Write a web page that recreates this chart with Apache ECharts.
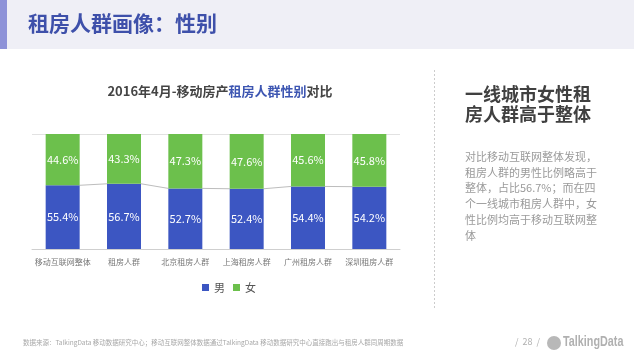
<!DOCTYPE html>
<html><head><meta charset="utf-8">
<script src="https://cdn.jsdelivr.net/npm/echarts@6/dist/echarts.min.js"></script>
<style>html,body{margin:0;padding:0;background:#fff}#c{width:634px;height:364px}</style>
</head><body><div id="c"></div>
<script>
const categories = ['移动互联网整体','租房人群','北京租房人群','上海租房人群','广州租房人群','深圳租房人群'];
const male = [55.4, 56.7, 52.7, 52.4, 54.4, 54.2];
const female = [44.6, 43.3, 47.3, 47.6, 45.6, 45.8];
const seriesNames = ['男','女'];
const FONT = '"Noto Sans CJK SC","Noto Sans",sans-serif';
const BAR_W = 34;

const connectors = [];
for (let i = 0; i < male.length - 1; i++) connectors.push([i, male[i], male[i + 1]]);

const chart = echarts.init(document.getElementById('c'));
chart.setOption({
  backgroundColor: '#fff',
  animation: false,
  textStyle: { fontFamily: FONT },
  title: {
    text: '{a|2016年4月-移动房产}{b|租房人群性别}{a|对比}',
    left: 215, top: 80, textAlign: 'center',
    textStyle: { rich: {
      a: { fontSize: 13, fontWeight: 'bold', color: '#444', fontFamily: FONT },
      b: { fontSize: 13, fontWeight: 'bold', color: '#3d56b2', fontFamily: FONT }
    } }
  },
  legend: {
    left: 197, top: 277, itemWidth: 7, itemHeight: 7, itemGap: 8,
    icon: 'rect',
    textStyle: { fontSize: 11, color: '#555', fontFamily: FONT },
    data: seriesNames
  },
  grid: { left: 32, right: 234, top: 134, bottom: 115 },
  xAxis: {
    type: 'category', data: categories,
    axisLine: { lineStyle: { color: '#cfcfcf' } },
    axisTick: { show: false },
    axisLabel: { fontSize: 8, color: '#777', margin: 9, fontFamily: FONT, interval: 0 }
  },
  yAxis: {
    type: 'value', min: 0, max: 100, interval: 100, show: true,
    axisLine: { show: false }, axisTick: { show: false }, axisLabel: { show: false },
    splitLine: { lineStyle: { color: '#e2e2e2' } }
  },
  series: [
    { name: seriesNames[0], type: 'bar', stack: 's', data: male, barWidth: BAR_W,
      itemStyle: { color: '#3c56c2' },
      label: { show: true, position: 'inside', color: '#fff', fontSize: 11, formatter: p => p.value.toFixed(1) + '%' } },
    { name: seriesNames[1], type: 'bar', stack: 's', data: female, barWidth: BAR_W,
      itemStyle: { color: '#6cc04c' },
      label: { show: true, position: 'inside', color: '#fff', fontSize: 11, formatter: p => p.value.toFixed(1) + '%' } },
    { type: 'custom', data: connectors, silent: true, z: 1,
      renderItem: (params, api) => {
        const i = api.value(0);
        const p1 = api.coord([i, api.value(1)]);
        const p2 = api.coord([i + 1, api.value(2)]);
        return { type: 'line', shape: { x1: p1[0] + BAR_W / 2, y1: p1[1], x2: p2[0] - BAR_W / 2, y2: p2[1] },
          style: { stroke: '#bdbdbd', lineWidth: 1 } };
      } }
  ],
  graphic: [
    { type: 'rect', left: 0, top: 0, shape: { width: 634, height: 49 }, style: { fill: '#efeff6' }, silent: true },
    { type: 'rect', left: 0, top: 0, shape: { width: 7, height: 49 }, style: { fill: '#8e92d8' }, silent: true },
    { type: 'text', left: 28, top: 13, style: { text: '租房人群画像：性别', fill: '#3e50aa', font: 'bold 21px ' + FONT } },
    { type: 'line', shape: { x1: 434.5, y1: 70, x2: 434.5, y2: 310 }, style: { stroke: '#cccccc', lineDash: [2, 2], lineWidth: 1 } },
    { type: 'text', left: 465, top: 84, style: { text: '一线城市女性租\n房人群高于整体', fill: '#404040', font: 'bold 18px ' + FONT, lineHeight: 20 } },
    { type: 'text', left: 465, top: 149, style: { text: '对比移动互联网整体发现，\n租房人群的男性比例略高于\n整体，占比56.7%；而在四\n个一线城市租房人群中，女\n性比例均高于移动互联网整\n体', fill: '#9a9a9a', font: '11px ' + FONT, lineHeight: 15.7 } },
    { type: 'text', left: 23, top: 339, style: { text: '数据来源：TalkingData 移动数据研究中心；移动互联网整体数据通过TalkingData 移动数据研究中心直接跑出与租房人群同周期数据', fill: '#a8a8a8', font: '6.5px ' + FONT } },
    { type: 'text', left: 515, top: 337, style: { text: '/  28  /', fill: '#b0b0b0', font: '9px ' + FONT } },
    { type: 'circle', shape: { cx: 554, cy: 343, r: 7 }, style: { fill: '#b8b8b8' } },
    { type: 'text', x: 563, y: 334, scaleX: 0.72, style: { text: 'TalkingData', fill: '#b0b0b0', font: 'bold 15px "Liberation Sans",sans-serif' } }
  ]
});
</script></body></html>
